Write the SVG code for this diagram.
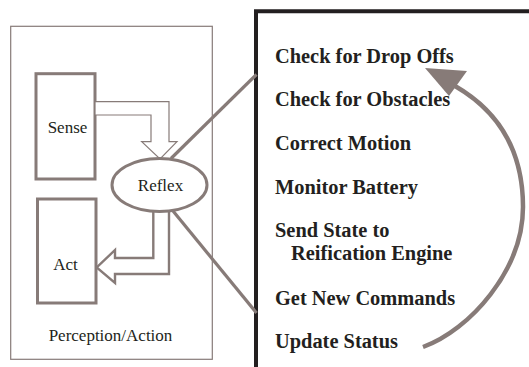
<svg xmlns="http://www.w3.org/2000/svg" width="529" height="367" viewBox="0 0 529 367">
  <style>
    .frame { fill: none; stroke: #877b78; stroke-width: 1.2; }
    .box { fill: #ffffff; stroke: #877b78; stroke-width: 3; }
    .thin-arrow { fill: #ffffff; stroke: #877b78; stroke-width: 1.2; stroke-linejoin: miter; }
    .wide-arrow { fill: #ffffff; stroke: #877b78; stroke-width: 2.4; stroke-linejoin: miter; }
    .link { fill: none; stroke: #877b78; stroke-width: 3.2; }
    .label { font-family: "Liberation Serif", "Times New Roman", serif; font-size: 17px; fill: #231f20; }
    .step { font-family: "Liberation Serif", "Times New Roman", serif; font-size: 20.4px; font-weight: bold; fill: #231f20; }
  </style>
  <rect width="529" height="367" fill="#ffffff"/>

  <!-- Perception/Action module -->
  <g id="perception-action">
    <rect class="frame" x="10.7" y="26.3" width="201.6" height="333"/>
    <text class="label" x="110.5" y="340.5" text-anchor="middle">Perception/Action</text>
  </g>

  <g id="sense">
    <rect class="box" x="36" y="73.7" width="59" height="105.3"/>
    <text class="label" x="67.5" y="132.7" text-anchor="middle">Sense</text>
  </g>

  <g id="act">
    <rect class="box" x="37.5" y="199" width="58.5" height="104"/>
    <text class="label" x="65.5" y="270" text-anchor="middle">Act</text>
  </g>

  <!-- Reflex loop panel -->
  <g id="reflex-loop">
    <path d="M 529 11.3 H 256 V 367" fill="none" stroke="#231f20" stroke-width="4"/>
    <text class="step" x="275" y="62.5">Check for Drop Offs</text>
    <text class="step" x="275" y="106">Check for Obstacles</text>
    <text class="step" x="275" y="150">Correct Motion</text>
    <text class="step" x="275" y="194">Monitor Battery</text>
    <text class="step" x="275" y="237">Send State to</text>
    <text class="step" x="291" y="260">Reification Engine</text>
    <text class="step" x="275" y="305">Get New Commands</text>
    <text class="step" x="275" y="348">Update Status</text>
  </g>

  <g id="connectors">
    <!-- Sense to Reflex -->
    <path class="thin-arrow" d="M 95 101.7 H 169 V 141.7 H 177 L 160 159 L 141.7 141.7 H 151 V 115 H 95 Z"/>
    <!-- Reflex to Act -->
    <path class="wide-arrow" d="M 153.3 211 V 258 H 115 V 250 L 96.7 267.5 L 115 283 V 274 H 169 V 211"/>
    <!-- Reflex expanded into the loop panel -->
    <line class="link" x1="171" y1="158.5" x2="256.5" y2="74.5"/>
    <line class="link" x1="171" y1="208.5" x2="256.5" y2="313"/>
    <!-- Loop back from last step to first -->
    <path d="M 423 347 C 470 330 523 270 523 207 C 523 152 500 112 455 86" fill="none" stroke="#877b78" stroke-width="4.5"/>
    <polygon points="425,68 467,71 449,96" fill="#877b78"/>
  </g>

  <g id="reflex">
    <ellipse cx="159.5" cy="185" rx="47.5" ry="26.5" fill="#ffffff" stroke="#877b78" stroke-width="3"/>
    <text class="label" x="160.5" y="190.5" text-anchor="middle">Reflex</text>
  </g>
</svg>
